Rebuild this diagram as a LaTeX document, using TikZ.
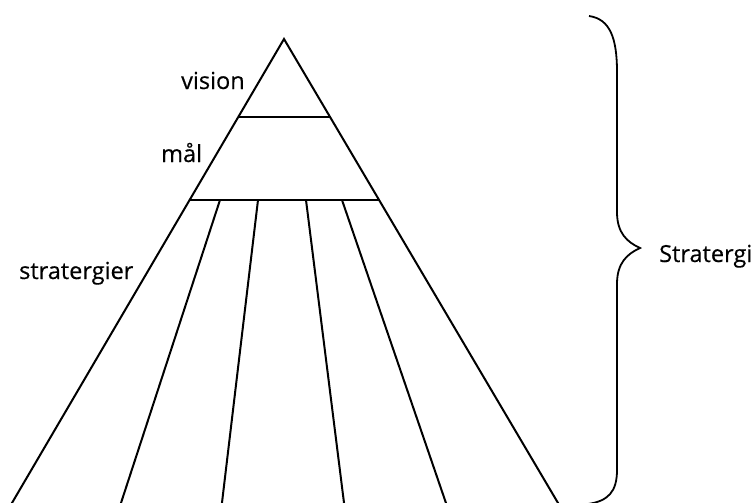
\documentclass[tikz,border=0pt]{standalone}
\usepackage{fontspec}
\setmainfont{Open Sans}[FakeBold=0.4]
\newfontfamily\lblfont{Open Sans}[FakeBold=0.4]
\begin{document}
\begin{tikzpicture}[x=1pt,y=-1pt,
  edge/.style={line width=2pt,black},
  lbl/.style={anchor=base west,inner sep=0pt,font=\lblfont\fontsize{23.5}{28}\selectfont}]
\useasboundingbox (0,0) rectangle (755,503);
% triangle corners
\coordinate (apex) at (284,39);
\coordinate (bl) at (10.2,506);
\coordinate (br) at (559.8,506);
\coordinate (v1) at (238.3,117);
\coordinate (v2) at (330.0,117);
\coordinate (m1) at (189.6,200);
\coordinate (m2) at (379.0,200);
% inner strategy lines
\coordinate (s1t) at (220,200); \coordinate (s1b) at (120,506);
\coordinate (s2t) at (258,200); \coordinate (s2b) at (221.6,506);
\coordinate (s3t) at (306,200); \coordinate (s3b) at (344.4,506);
\coordinate (s4t) at (342,200); \coordinate (s4b) at (447,506);
\draw[edge,line join=miter] (bl) -- (apex) -- (br);
\draw[edge] (v1) -- (v2);
\draw[edge] (m1) -- (m2);
\foreach \i in {1,...,4} \draw[edge] (s\i t) -- (s\i b);
% brace
\coordinate (bt) at (589,16);
\coordinate (tip) at (640,248);
\coordinate (bb) at (588,504);
\draw[edge,line width=1.8pt] (bt) .. controls (610,19) and (617,38) .. (617,72)
  -- (617,212) .. controls (617,233) and (627,242) .. (tip)
  .. controls (627,254) and (617,263) .. (617,284)
  -- (617,470) .. controls (617,492) and (608,501) .. (bb);
% labels
\node[lbl] (vision) at (181,89) {vision};
\node[lbl] (mal) at (161,162) {mål};
\node[lbl] (strat) at (19,279) {stratergier};
\node[lbl] (Strat) at (659,262) {Stratergi};
\end{tikzpicture}
\end{document}
